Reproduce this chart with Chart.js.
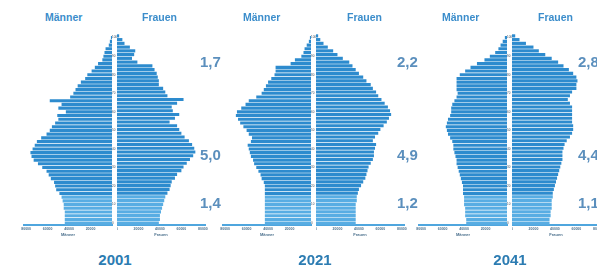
<!DOCTYPE html>
<html>
<head>
<meta charset="utf-8">
<script src="https://cdn.jsdelivr.net/npm/chart.js@4.4.0/dist/chart.umd.min.js"></script>
<style>
html, body { margin: 0; padding: 0; background: #fff; }
#wrap { position: relative; width: 597px; height: 267px; overflow: hidden; font-family: "Liberation Sans", Arial, sans-serif; }
#wrap canvas { position: absolute; }
.lbl { position: absolute; white-space: nowrap; font-weight: bold; line-height: 1; }
.sex { font-size: 10.5px; color: #3b8dcb; top: 12px; }
.num { font-size: 15px; color: #5b8fbd; }
.year { font-size: 15px; color: #2c7cb2; top: 252px; width: 60px; text-align: center; }
</style>
</head>
<body>
<div id="wrap"></div>
<script>
// Altersgruppen (2 Jahre), unten 0, oben 100
var ageGroups = ['0','2','4','6','8','10','12','14','16','18','20','22','24','26','28','30','32','34','36','38','40',
    '42','44','46','48','50','52','54','56','58','60','62','64','66','68','70','72','74','76','78','80',
    '82','84','86','88','90','92','94','96','98','100'];

// Bevölkerung in Tausend je Altersgruppe
var men2001 = [44,44,44,44,45,45,46,47,49,52,53,54,57,59,61,65,69,73,75,76,74,
    72,70,66,61,58,56,53,50,51,43,50,47,58,39,36,34,32,29,25,23,
    19,16,13,9,8,7,6,3,2,1];
var women2001 = [39,40,40,41,42,43,44,45,47,49,50,51,54,56,60,62,65,68,71,73,72,
    70,67,63,60,58,56,49,54,58,52,51,56,62,47,45,43,39,39,38,37,
    35,33,19,14,16,17,12,7,5,2];
var men2021 = [43,43,43,43,43,43,43,43,43,43,43,44,46,47,49,51,53,54,56,57,58,
    59,56,55,58,60,63,66,68,70,69,65,61,58,51,46,44,42,40,37,34,
    33,33,19,15,9,7,6,4,2,1];
var women2021 = [37,37,37,37,37,37,38,38,39,40,42,44,46,47,48,49,51,53,54,54,55,
    56,53,55,58,60,63,66,68,70,69,67,64,61,58,56,53,51,47,44,40,
    37,34,31,25,20,16,11,7,4,2];
var men2041 = [38,38,39,39,39,40,40,40,41,41,41,42,43,44,45,46,47,47,48,49,50,
    50,51,53,55,56,57,56,55,53,52,52,51,49,47,46,47,47,47,47,44,
    39,34,28,21,16,11,8,6,4,2];
var women2041 = [35,35,36,36,37,37,37,38,38,39,40,41,42,43,44,45,46,47,47,47,48,
    49,51,54,56,57,57,56,56,56,56,56,54,52,54,56,60,60,61,60,57,
    53,48,43,37,31,25,20,13,7,3];

var years = ['2001', '2021', '2041'];
var sexLabels = ['Männer', 'Frauen'];
var shares = [['1,7', '5,0', '1,4'], ['2,2', '4,9', '1,2'], ['2,8', '4,4', '1,1']];
var xTicks = [0, 20, 40, 60, 80];
var xTickLabels = ['0', '20000', '40000', '60000', '80000'];

var series = [[men2001, women2001], [men2021, women2021], [men2041, women2041]];

// Lage der Pyramiden
var maleEnd = [112, 311, 507];
var sexLeft = [[45, 142], [243, 347], [442, 538]];
var numLeft = [200, 397, 578];
var numTop = [54, 147, 195];
var yearCenter = [115, 315, 510];

var AREA_W = 88, GAP = 5, PAD = 8, TOP = 34, H = 203, XAXIS_H = 12;
var DARK = '#2d8bce', LIGHT = '#58ade3';

function barColor(ctx) {
    return ctx.dataIndex < 8 ? LIGHT : DARK;
}

function makeCanvas(left, width) {
    var c = document.createElement('canvas');
    c.width = width;
    c.height = H;
    c.style.left = left + 'px';
    c.style.top = TOP + 'px';
    document.getElementById('wrap').appendChild(c);
    return c;
}

function xScale(reverse, title) {
    return {
        type: 'linear',
        min: 0,
        max: 82,
        reverse: reverse,
        grid: { display: false, drawTicks: false },
        border: { display: true, color: '#4fa6de', width: 2 },
        afterBuildTicks: function (s) {
            s.ticks = xTicks.map(function (v) { return { value: v }; });
        },
        afterFit: function (s) {
            s.height = XAXIS_H;
            s.paddingLeft = 0;
            s.paddingRight = 0;
        },
        ticks: {
            padding: 2,
            maxRotation: 0,
            autoSkip: false,
            color: '#4a6f8c',
            font: { size: 3.5, weight: 'bold' },
            callback: function (v) {
                if (reverse && v === 0) return '';
                return xTickLabels[xTicks.indexOf(v)];
            }
        },
        title: {
            display: true,
            text: title,
            color: '#4a6f8c',
            padding: 0,
            font: { size: 4, weight: 'bold' }
        }
    };
}

function pyramid(i) {
    var mEnd = maleEnd[i];

    // Männer: nach links, Altersachse rechts
    var cm = makeCanvas(mEnd - AREA_W - PAD, PAD + AREA_W + GAP);
    new Chart(cm.getContext('2d'), {
        type: 'bar',
        data: {
            labels: ageGroups,
            datasets: [{
                data: series[i][0],
                backgroundColor: barColor,
                barPercentage: 0.84,
                categoryPercentage: 1
            }]
        },
        options: {
            indexAxis: 'y',
            responsive: false,
            animation: false,
            devicePixelRatio: 1,
            layout: { padding: { left: PAD, right: 0, top: 0, bottom: 0 } },
            plugins: { legend: { display: false }, tooltip: { enabled: false } },
            scales: {
                x: xScale(true, sexLabels[0]),
                y: {
                    type: 'category',
                    position: 'right',
                    reverse: true,
                    grid: { display: false, drawTicks: false },
                    border: { display: false },
                    afterFit: function (s) { s.width = GAP; },
                    ticks: {
                        padding: 0,
                        autoSkip: false,
                        color: '#3a4a5a',
                        font: { size: 3 },
                        callback: function (v, idx) {
                            return idx % 5 === 0 ? ageGroups[idx] : '';
                        }
                    }
                }
            }
        }
    });

    // Frauen: nach rechts
    var cf = makeCanvas(mEnd + GAP, AREA_W + PAD);
    new Chart(cf.getContext('2d'), {
        type: 'bar',
        data: {
            labels: ageGroups,
            datasets: [{
                data: series[i][1],
                backgroundColor: barColor,
                barPercentage: 0.84,
                categoryPercentage: 1
            }]
        },
        options: {
            indexAxis: 'y',
            responsive: false,
            animation: false,
            devicePixelRatio: 1,
            layout: { padding: { left: 0, right: PAD, top: 0, bottom: 0 } },
            plugins: { legend: { display: false }, tooltip: { enabled: false } },
            scales: {
                x: xScale(false, sexLabels[1]),
                y: { type: 'category', reverse: true, display: false }
            }
        }
    });
}

function addText(cls, text, left, top) {
    var d = document.createElement('div');
    d.className = 'lbl ' + cls;
    d.textContent = text;
    d.style.left = left + 'px';
    if (top !== undefined) d.style.top = top + 'px';
    document.getElementById('wrap').appendChild(d);
}

function init() {
    for (var i = 0; i < years.length; i++) {
        pyramid(i);
        addText('sex', sexLabels[0], sexLeft[i][0]);
        addText('sex', sexLabels[1], sexLeft[i][1]);
        for (var k = 0; k < 3; k++) {
            addText('num', shares[i][k], numLeft[i], numTop[k]);
        }
        addText('year', years[i], yearCenter[i] - 30);
    }
}

init();
</script>
</body>
</html>
